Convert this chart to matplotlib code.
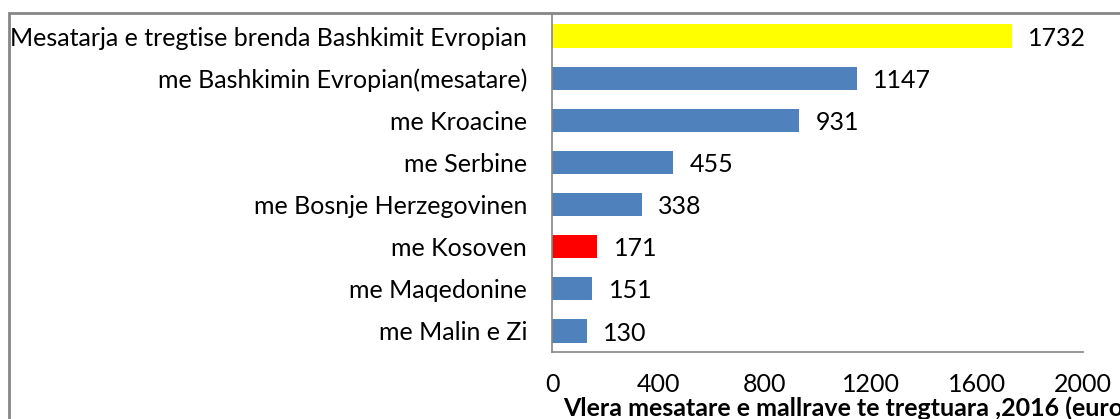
import matplotlib.pyplot as plt
from matplotlib.patches import Rectangle

categories = ['me Malin e Zi', 'me Maqedonine', 'me Kosoven', 'me Bosnje Herzegovinen',
              'me Serbine', 'me Kroacine', 'me Bashkimin Evropian(mesatare)',
              'Mesatarja e tregtise brenda Bashkimit Evropian']
values = [130, 151, 171, 338, 455, 931, 1147, 1732]
colors = ['#4F81BD', '#4F81BD', '#FF0000', '#4F81BD', '#4F81BD', '#4F81BD', '#4F81BD', '#FFFF00']
xticks = [0, 400, 800, 1200, 1600, 2000]
xlabel = 'Vlera mesatare e mallrave te tregtuara ,2016 (euro)'

plt.rcParams['font.family'] = ['Lato', 'DejaVu Sans']

fig = plt.figure(figsize=(11.2, 4.19), dpi=100)
ax = fig.add_axes([552 / 1120, 1 - 352 / 419, (1083 - 552) / 1120, (352 - 15) / 419])

ax.barh(range(len(values)), values, height=0.55, color=colors)
for i, v in enumerate(values):
    ax.text(v + 62, i - 0.05, str(v), va='center', ha='left', fontsize=18, color='black')

ax.set_xlim(0, 2000)
ax.set_ylim(-0.5, 7.5)
ax.set_yticks(range(len(categories)))
ax.set_yticklabels(categories, fontsize=18)
ax.set_xticks(xticks)
ax.set_xticklabels([str(t) for t in xticks], fontsize=18)
ax.tick_params(axis='y', length=0, pad=18)
ax.tick_params(axis='x', length=0, pad=15)

for s in ['top', 'right']:
    ax.spines[s].set_visible(False)
for s in ['left', 'bottom']:
    ax.spines[s].set_color('#868686')
    ax.spines[s].set_linewidth(1.2)

# axis title sits low and runs past the right edge, as in the source
fig.text(563 / 1120, 1 - 408 / 419, xlabel, fontsize=18, fontweight='bold',
         ha='left', va='center')

# outer chart border, cropped at right and bottom
fig.patches.append(Rectangle((9 / 1120, -0.2), 1.2, 1 - 13 / 419 + 0.2,
                             transform=fig.transFigure, fill=False,
                             edgecolor='#868686', linewidth=2))

fig.savefig('out.png', dpi=100)
